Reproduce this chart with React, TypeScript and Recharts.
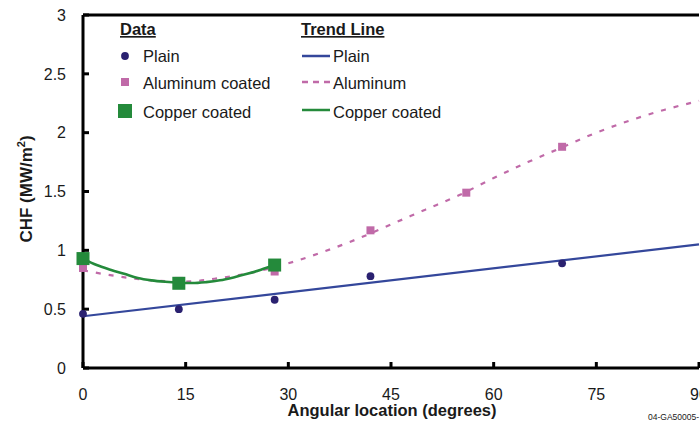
import {
  ComposedChart,
  Line,
  Scatter,
  XAxis,
  YAxis,
  ReferenceLine,
  Legend,
} from "recharts";

const FONT = '"Liberation Sans", Arial, Helvetica, sans-serif';
const INK = "#1a1a1a";
const NAVY = "#2a2170";
const BLUE = "#34479b";
const PINK = "#c06aa8";
const GREEN = "#248a3b";

// measured data (angle in degrees, CHF in MW/m2)
const plainAngles = [0, 14, 28, 42, 70];
const plainCHF = [0.46, 0.5, 0.58, 0.78, 0.89];

const aluminumAngles = [0, 14, 28, 42, 56, 70];
const aluminumCHF = [0.85, 0.74, 0.82, 1.17, 1.49, 1.88];

const copperAngles = [0, 14, 28];
const copperCHF = [0.93, 0.72, 0.875];

// trend lines
const plainTrendAngles = [0, 90];
const plainTrendCHF = [0.44, 1.05];

const aluminumTrendAngles = [0, 5, 10, 15, 20, 25, 30, 35, 40, 45, 50, 55, 60, 65, 70, 75, 80, 85, 90];
const aluminumTrendCHF = [
  0.83, 0.78, 0.745, 0.735, 0.765, 0.815, 0.89, 0.985, 1.095, 1.22, 1.345, 1.47, 1.615, 1.75, 1.875, 2.0,
  2.105, 2.195, 2.27,
];

const copperTrendAngles = [0, 2, 4, 6, 8, 10, 12, 14, 16, 18, 20, 22, 24, 26, 28];
const copperTrendCHF = [
  0.93, 0.875, 0.835, 0.8, 0.765, 0.745, 0.733, 0.725, 0.722, 0.73, 0.745, 0.77, 0.8, 0.835, 0.875,
];

const xTicks = [0, 15, 30, 45, 60, 75, 90];
const yTicks = [0, 0.5, 1, 1.5, 2, 2.5, 3];

const toPoints = (xs: number[], ys: number[]) => xs.map((x, i) => ({ x, y: ys[i] }));

const Dot = (p: any) => <circle cx={p.cx} cy={p.cy} r={3.9} fill={NAVY} />;
const square = (size: number, color: string) => (p: any) =>
  <rect x={p.cx - size / 2} y={p.cy - size / 2} width={size} height={size} fill={color} />;

const PinkSquare = square(8, PINK);
const GreenSquare = square(13, GREEN);

function XLabel() {
  return (
    <g fontFamily={FONT}>
      <text x={392} y={416} textAnchor="middle" fontSize={16.5} fontWeight={700} fill={INK}>
        Angular location (degrees)
      </text>
      <text x={648} y={420} fontSize={8.5} fill={INK}>
        04-GA50005-
      </text>
    </g>
  );
}

function YLabel() {
  const cx = 32;
  const cy = 189;
  return (
    <text
      x={cx}
      y={cy}
      transform={`rotate(-90 ${cx} ${cy})`}
      textAnchor="middle"
      fontFamily={FONT}
      fontSize={17}
      fontWeight={700}
      fill={INK}
    >
      CHF (MW/m
      <tspan dy={-7} fontSize={11}>2</tspan>
      <tspan dy={7}>)</tspan>
    </text>
  );
}

function LegendBox() {
  const txt = { fontFamily: FONT, fontSize: 16.5, fill: INK } as const;
  return (
    <svg width={700} height={130} style={{ display: "block" }}>
      <text x={120} y={35} {...txt} fontWeight={700} style={{ textDecoration: "underline" }}>
        Data
      </text>
      <circle cx={125} cy={56} r={3.9} fill={NAVY} />
      <text x={143} y={62} {...txt}>Plain</text>
      <rect x={121} y={78} width={8} height={8} fill={PINK} />
      <text x={143} y={89} {...txt}>Aluminum coated</text>
      <rect x={118} y={104} width={14} height={14} fill={GREEN} />
      <text x={143} y={118} {...txt}>Copper coated</text>

      <text x={301} y={35} {...txt} fontWeight={700} style={{ textDecoration: "underline" }}>
        Trend Line
      </text>
      <line x1={302} x2={330} y1={56} y2={56} stroke={BLUE} strokeWidth={2.5} />
      <text x={333} y={62} {...txt}>Plain</text>
      <line x1={302} x2={330} y1={82} y2={82} stroke={PINK} strokeWidth={2.5} strokeDasharray="6 5" />
      <text x={333} y={89} {...txt}>Aluminum</text>
      <line x1={302} x2={330} y1={110} y2={110} stroke={GREEN} strokeWidth={2.5} />
      <text x={333} y={118} {...txt}>Copper coated</text>
    </svg>
  );
}

export default function App() {
  return (
    <div style={{ position: "absolute", left: 0, top: 0, width: 700, height: 423, background: "#fff" }}>
      <ComposedChart width={700} height={423} margin={{ top: 15, right: 1, bottom: 0, left: 0 }}>
        <XAxis
          type="number"
          dataKey="x"
          domain={[0, 90]}
          ticks={xTicks}
          interval={0}
          height={55}
          axisLine={{ stroke: "#000", strokeWidth: 3 }}
          tickLine={{ stroke: "#000", strokeWidth: 3 }}
          tickSize={-6}
          tickMargin={27}
          tick={{ fontSize: 16, fill: INK, fontFamily: FONT }}
          label={<XLabel />}
        />
        <YAxis
          type="number"
          dataKey="y"
          domain={[0, 3]}
          ticks={yTicks}
          interval={0}
          width={83}
          axisLine={{ stroke: "#000", strokeWidth: 3 }}
          tickLine={{ stroke: "#000", strokeWidth: 3 }}
          tickSize={-6}
          tickMargin={23}
          tick={{ fontSize: 16, fill: INK, fontFamily: FONT }}
          label={<YLabel />}
        />
        <ReferenceLine y={3} stroke="#000" strokeWidth={3} />
        <Legend
          layout="horizontal"
          align="center"
          verticalAlign="middle"
          wrapperStyle={{ left: 0, top: 0, width: 700, height: 130 }}
          content={() => <LegendBox />}
        />
        <Line
          data={toPoints(plainTrendAngles, plainTrendCHF)}
          dataKey="y"
          type="linear"
          stroke={BLUE}
          strokeWidth={2.2}
          dot={false}
          isAnimationActive={false}
        />
        <Line
          data={toPoints(aluminumTrendAngles, aluminumTrendCHF)}
          dataKey="y"
          type="monotone"
          stroke={PINK}
          strokeWidth={2.2}
          strokeDasharray="5 8"
          dot={false}
          isAnimationActive={false}
        />
        <Scatter data={toPoints(plainAngles, plainCHF)} shape={Dot} isAnimationActive={false} />
        <Scatter data={toPoints(aluminumAngles, aluminumCHF)} shape={PinkSquare} isAnimationActive={false} />
        <Line
          data={toPoints(copperTrendAngles, copperTrendCHF)}
          dataKey="y"
          type="monotone"
          stroke={GREEN}
          strokeWidth={2.6}
          dot={false}
          isAnimationActive={false}
        />
        <Scatter data={toPoints(copperAngles, copperCHF)} shape={GreenSquare} isAnimationActive={false} />
      </ComposedChart>
    </div>
  );
}
